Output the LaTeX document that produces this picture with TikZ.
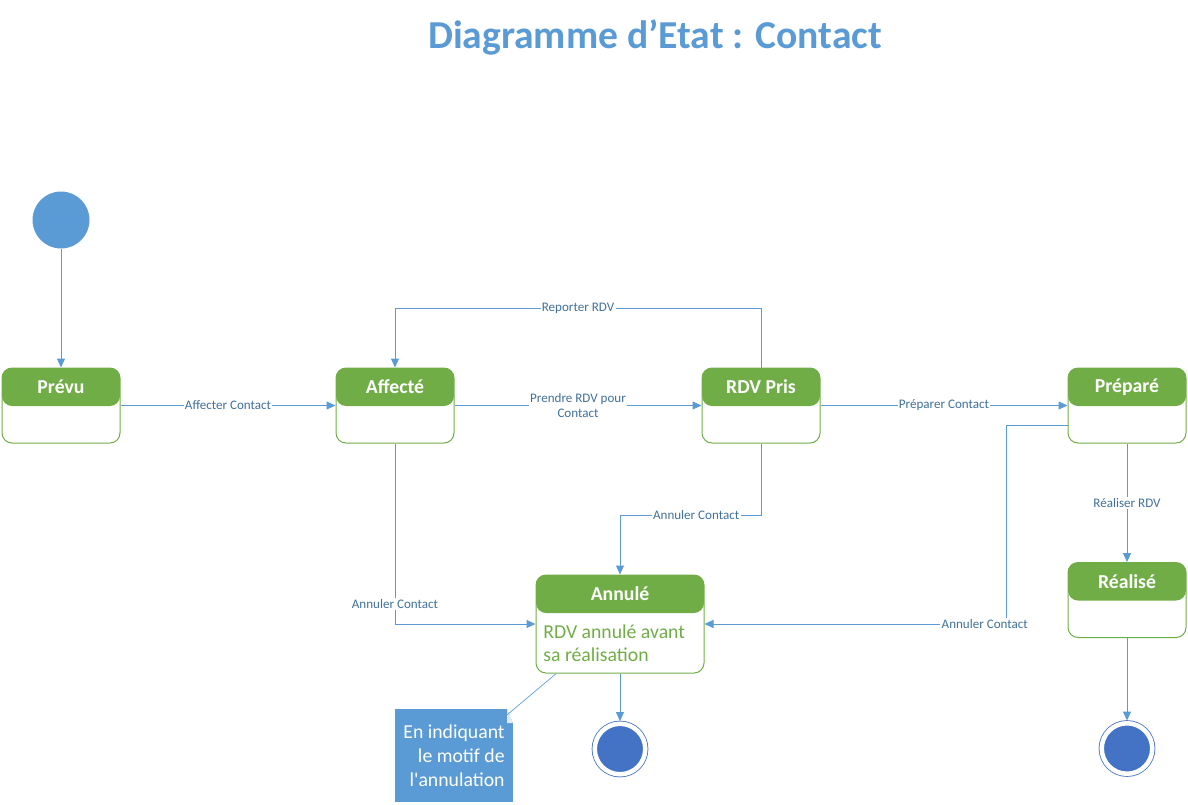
\documentclass[tikz,border=0pt]{standalone}
\usepackage{fontspec}
\setmainfont{Carlito}
\usetikzlibrary{arrows.meta,positioning}
\definecolor{titleblue}{HTML}{5B9BD5}
\definecolor{lineblue}{HTML}{5B9BD5}
\definecolor{labelblue}{HTML}{41719C}
\definecolor{stategreen}{HTML}{70AD47}
\definecolor{endblue}{HTML}{4472C4}
\definecolor{noteblue}{HTML}{5B9BD5}
\definecolor{foldblue}{HTML}{DEEBF7}

\begin{document}
\begin{tikzpicture}[x=0.75pt,y=-0.75pt,
	state/.style={draw=stategreen,line width=0.75pt,rounded corners=7.5pt,minimum width=88.5pt,minimum height=56.25pt,inner sep=0pt,
		path picture={\fill[stategreen] (path picture bounding box.north west) rectangle ([yshift=-28.5pt]path picture bounding box.north east);}},
	head/.style={font=\bfseries\fontsize{14.8}{17}\selectfont,text=white,anchor=center,yshift=-14.6pt},
	trans/.style={draw=lineblue,line width=0.75pt,-{Triangle[length=6.75pt,width=6pt]}},
	lbl/.style={fill=white,text=labelblue,font=\fontsize{9.8}{11.5}\selectfont,inner sep=1pt},
	initstate/.style={circle,fill=lineblue,minimum size=42.75pt,inner sep=0pt},
	final/.style={circle,draw=endblue,fill=endblue,line width=0.6pt,double=white,double distance=3.4pt,minimum size=37.9pt,inner sep=0pt,outer sep=2pt},
	note/.style={fill=noteblue,text=white,align=right,minimum width=88.5pt,minimum height=69.75pt,inner sep=0pt,font=\fontsize{14.8}{18}\selectfont,
		path picture={\fill[white] ([xshift=-4.5pt]path picture bounding box.north east) -- (path picture bounding box.north east) -- ([yshift=-10.5pt]path picture bounding box.north east) -- cycle;
			\fill[foldblue] ([xshift=-4.5pt]path picture bounding box.north east) -- ([yshift=-10.5pt]path picture bounding box.north east) -- ([xshift=-4.5pt,yshift=-10.5pt]path picture bounding box.north east) -- cycle;}},
	noteline/.style={draw=lineblue,line width=0.5pt}]
	\useasboundingbox (0,0) rectangle (1188,804);
	\node[font=\bfseries\fontsize{29.7}{36}\selectfont,text=titleblue] (titre) at (655,37) {Diagramme d’Etat : Contact};

	\node[initstate] (init) at (61,220) {};
	\node[state,label={[head]north:Prévu}] (prevu) at (61,405.5) {};
	\node[state,label={[head]north:Affecté}] (affecte) at (395,405.5) {};
	\node[state,label={[head]north:RDV Pris}] (rdvpris) at (761,405.5) {};
	\node[state,label={[head]north:Préparé}] (prepare) at (1127,405.5) {};
	\node[state,label={[head]north:Réalisé}] (realise) at (1127,600) {};
	\node[state,minimum width=126pt,minimum height=73.5pt,label={[head]north:Annulé}] (annule) at (620,624) {};
	\node[anchor=west,inner sep=0pt,align=left,text=stategreen,font=\fontsize{14.8}{17.25}\selectfont] (annuletxt) at ([xshift=5.7pt,yshift=-14.6pt]annule.west) {RDV annulé avant\\sa réalisation};
	\node[final] (fin1) at (620,749) {};
	\node[final] (fin2) at (1127,748.5) {};
	\node[note] (note) at (454,755.5) {En indiquant\\le motif de\\l\textquotesingle annulation};

	\draw[trans] (init) -- (prevu);
	\draw[trans] (prevu) -- node[lbl]{Affecter Contact} (affecte);
	\draw[trans] (affecte) -- node[lbl,align=center]{Prendre RDV pour\\Contact} (rdvpris);
	\draw[trans] (rdvpris) -- node[lbl]{Préparer Contact} (prepare);
	\draw[trans] (rdvpris.north) -- ++(0,-59) -| node[lbl,pos=0.25]{Reporter RDV} (affecte.north);
	\draw[trans] (rdvpris.south) -- ++(0,72) -| node[lbl,pos=0.23]{Annuler Contact} (annule.north);
	\draw[trans] (affecte.south) |- node[lbl,pos=0.445]{Annuler Contact} (annule.west);
	\draw[trans] ([yshift=-15pt]prepare.west) -- ++(-61,0) |- node[lbl,pos=0.536]{Annuler Contact} (annule.east);
	\draw[trans] (prepare) -- node[lbl]{Réaliser RDV} (realise);
	\draw[trans] (realise) -- (fin2);
	\draw[trans] (annule) -- (fin1);
	\draw[noteline] ([xshift=-4.5pt,yshift=-4.5pt]note.north east) -- ([xshift=15.5pt]annule.south west);
\end{tikzpicture}
\end{document}
